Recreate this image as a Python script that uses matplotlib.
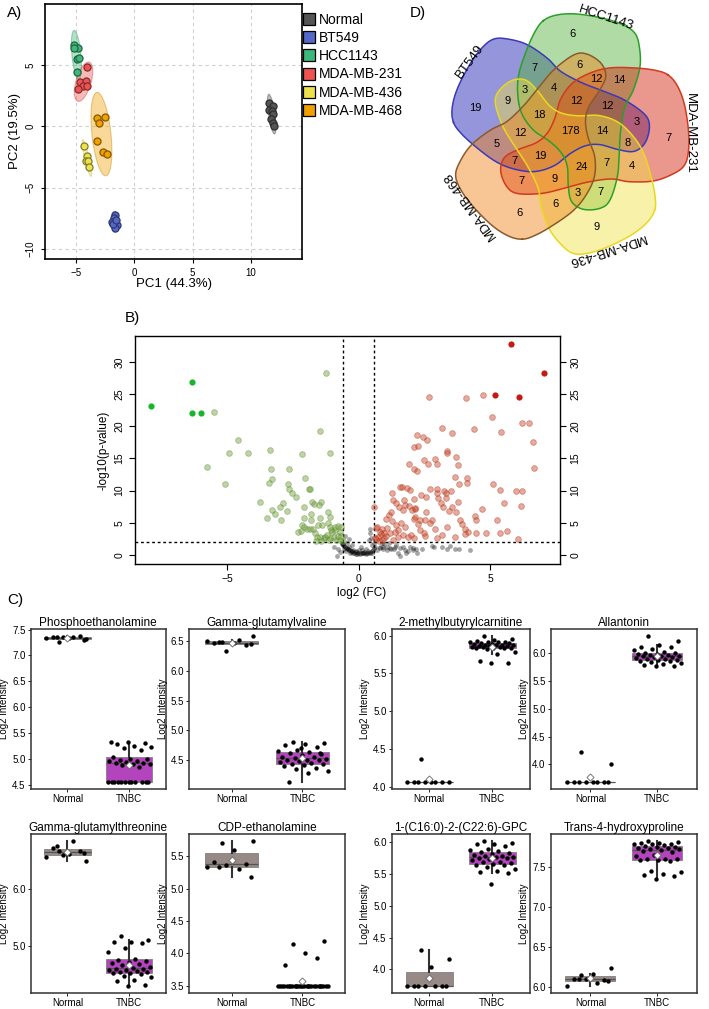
import numpy as np
import matplotlib
matplotlib.use("Agg")
import matplotlib.pyplot as plt
from matplotlib.path import Path
from matplotlib.lines import Line2D
from matplotlib.patches import Ellipse
from matplotlib.ticker import MultipleLocator, FormatStrFormatter

plt.rcParams['font.family'] = ['Liberation Sans', 'DejaVu Sans']

# ---------------- DATA ----------------
# A) PCA scores
pca_groups = ["Normal", "BT549", "HCC1143", "MDA-MB-231", "MDA-MB-436", "MDA-MB-468"]
pca_colors = ["#555555", "#5468c8", "#3db77a", "#ee5252", "#ede24c", "#f0a000"]
pc_normal = [(11.57, 1.91), (11.85, 1.64), (11.57, 1.31), (11.77, 1.23), (11.85, 0.98),
             (11.68, 0.63), (11.90, 0.27), (11.97, 0.0)]
pc_bt549 = [(-1.66, -7.24), (-1.72, -7.5), (-1.89, -7.78), (-1.51, -8.05), (-1.66, -8.27),
            (-1.80, -7.91), (-1.55, -7.6)]
pc_hcc1143 = [(-5.17, 6.64), (-4.86, 6.37), (-4.94, 5.46), (-4.72, 5.6), (-4.94, 4.45), (-5.17, 6.37)]
pc_mda231 = [(-4.08, 4.86), (-4.66, 3.63), (-4.14, 3.72), (-4.43, 3.28), (-4.03, 3.31), (-4.80, 3.0)]
pc_mda436 = [(-4.31, -1.64), (-4.08, -2.40), (-4.14, -2.79), (-3.94, -2.79), (-3.91, -3.28)]
pc_mda468 = [(-3.20, 0.71), (-3.03, 0.27), (-2.51, 0.77), (-3.17, -1.2), (-2.71, -2.1), (-2.32, -2.24)]
pc1_label = "PC1 (44.3%)"
pc2_label = "PC2 (19.5%)"

# B) Volcano plot (log2 FC, -log10 p)
top_down = [(-7.89, 23.1), (-6.32, 26.9), (-6.34, 22.1), (-6.00, 22.0)]
top_up = [(5.78, 32.7), (7.07, 28.2), (5.17, 24.9), (6.12, 24.5)]
down_points = [(-5.48, 22.2), (-4.58, 17.8), (-4.94, 15.9), (-4.20, 15.8), (-5.77, 13.6), (-5.08, 11.0),
               (-1.24, 28.2), (-1.48, 19.2), (-1.09, 15.8), (-2.14, 15.7), (-3.37, 16.3), (-3.33, 13.3),
               (-2.65, 13.4), (-3.30, 11.8), (-3.39, 11.2), (-2.67, 11.0), (-2.05, 11.9), (-3.76, 8.2),
               (-3.47, 5.8), (-3.29, 7.0), (-3.18, 6.4), (-2.87, 8.0), (-3.00, 7.4), (-2.72, 6.8),
               (-2.94, 5.4), (-2.65, 10.2), (-2.53, 9.7), (-2.38, 9.0), (-1.89, 10.2), (-1.85, 10.2),
               (-1.76, 8.2), (-1.70, 7.9), (-2.06, 7.5), (-1.80, 6.4), (-1.43, 8.2), (-1.52, 7.8),
               (-1.16, 6.6), (-1.08, 5.9), (-1.48, 5.8), (-1.80, 5.4), (-2.09, 5.7), (-2.15, 4.7),
               (-2.19, 3.8), (-2.29, 3.6), (-1.96, 4.1), (-2.06, 4.4), (-1.84, 4.1), (-1.73, 4.0),
               (-1.54, 4.7), (-1.38, 4.6), (-1.16, 4.9), (-1.08, 4.3), (-1.03, 3.9), (-1.00, 3.5),
               (-0.91, 3.9), (-0.89, 4.3), (-0.77, 4.5), (-0.67, 4.4), (-0.95, 2.8), (-1.08, 2.6),
               (-1.27, 2.8), (-1.30, 2.6), (-1.19, 3.1), (-1.46, 2.8), (-1.58, 2.8), (-1.67, 3.4),
               (-1.62, 2.1), (-1.42, 2.2), (-1.14, 2.4), (-0.86, 2.4), (-0.70, 2.4), (-0.59, 2.1),
               (-0.80, 3.0), (-0.72, 3.6), (-0.66, 2.9)]
up_points = [(2.68, 24.6), (4.10, 24.3), (4.75, 24.9), (5.06, 21.4), (6.23, 20.5), (6.49, 20.5), (6.64, 17.5),
             (6.69, 13.5), (5.42, 19.1), (4.40, 19.6), (3.17, 19.7), (3.55, 19.0), (2.23, 18.7), (2.44, 18.3),
             (2.62, 17.9), (2.09, 16.7), (2.25, 16.9), (2.48, 14.8), (2.65, 14.1), (1.90, 14.1), (2.09, 13.4),
             (2.24, 13.1), (2.91, 14.9), (3.00, 14.2), (3.35, 16.1), (3.37, 15.9), (3.69, 15.2), (3.78, 14.0),
             (3.65, 12.1), (3.83, 11.0), (4.12, 12.0), (3.51, 9.9), (3.80, 8.3), (4.13, 11.1), (3.26, 9.9),
             (3.33, 9.6), (3.32, 8.8), (3.02, 8.9), (2.71, 10.3), (3.00, 10.2), (3.00, 9.6), (3.13, 8.0),
             (3.22, 7.5), (3.43, 6.8), (3.57, 7.5), (3.71, 6.6), (3.85, 5.4), (3.95, 4.8), (4.06, 4.1),
             (4.17, 3.6), (3.68, 2.8), (4.05, 3.3), (4.45, 3.4), (4.45, 5.5), (4.41, 6.0), (4.68, 7.2),
             (4.85, 3.4), (5.25, 5.4), (5.38, 3.4), (5.65, 3.7), (6.05, 2.5), (6.16, 7.6), (6.22, 9.9),
             (5.99, 10.0), (5.53, 8.1), (5.38, 10.1), (5.10, 11.0), (1.28, 9.6), (1.32, 8.5), (1.64, 10.6),
             (1.59, 10.5), (1.84, 10.4), (1.95, 10.1), (1.72, 8.5), (1.77, 7.8), (1.54, 7.5), (1.41, 8.0),
             (1.69, 7.0), (1.90, 7.6), (2.02, 7.0), (2.16, 7.2), (2.16, 5.9), (2.11, 5.6), (2.35, 5.5),
             (2.53, 5.5), (2.57, 6.7), (2.55, 9.0), (2.38, 9.3), (2.09, 8.7), (2.14, 7.3), (2.26, 4.8),
             (2.35, 3.9), (2.48, 3.4), (2.54, 3.0), (2.71, 4.9), (2.81, 5.4), (2.91, 4.0), (3.00, 2.6),
             (3.17, 3.1), (3.38, 4.4), (1.04, 5.6), (1.16, 6.2), (1.26, 5.2), (1.08, 4.2), (0.89, 4.1),
             (0.84, 3.2), (0.74, 2.8), (0.67, 4.2), (0.97, 3.4), (1.18, 3.4), (1.37, 3.5), (1.51, 3.9),
             (1.51, 2.8), (1.70, 3.1), (1.87, 2.8), (1.98, 3.1), (2.12, 2.6), (0.59, 7.4), (0.71, 4.3),
             (0.61, 2.7), (1.25, 6.7), (1.44, 4.7), (1.63, 4.9), (1.76, 4.3), (0.97, 2.6), (0.78, 2.2),
             (0.68, 2.5), (0.88, 2.4), (1.05, 2.9), (1.30, 2.3), (0.80, 3.6)]
ns_points = [(-0.51, 3.0), (-0.44, 1.8), (-0.82, -0.1), (-0.70, 0.5), (-0.95, 1.3), (-0.19, 0.26), (-0.09, 0.1),
             (-0.32, 0.36), (-0.38, 1.2), (-0.59, 1.7), (-0.64, 1.9), (-0.58, 1.55), (-0.51, 1.29), (-0.45, 1.03),
             (-0.36, 0.78), (-0.26, 0.62), (-0.13, 0.47), (-0.01, 0.36), (0.12, 0.26), (0.25, 0.36), (0.37, 0.26),
             (0.50, 0.36), (0.56, 0.78), (0.63, 1.29), (0.69, 0.78), (0.82, 1.03), (0.94, 1.29), (1.07, 0.78),
             (1.20, 1.03), (1.39, 1.29), (1.58, 1.03), (1.77, 0.78), (1.96, 1.29), (2.08, 1.03), (0.45, 4.0),
             (0.48, 2.6), (0.80, 1.3), (0.93, 1.0), (1.08, 1.2), (1.25, 1.0), (1.34, 0.9), (1.50, 0.3),
             (1.56, -0.1), (1.82, 0.26), (1.88, 0.6), (2.07, 0.8), (2.17, 0.9), (2.24, 0.26), (2.42, 1.0),
             (2.79, 1.4), (2.86, 1.2), (3.16, 1.3), (3.35, 1.0), (3.47, 1.4), (3.68, 0.9), (3.82, 1.0),
             (4.24, 0.8), (1.69, 1.3), (1.44, 1.55), (1.16, 1.8), (0.98, 1.7), (0.88, 1.8), (0.44, 3.4),
             (-0.78, 1.0), (-0.55, 0.9), (-0.48, 0.6), (-0.30, 0.5), (-0.22, 0.3), (-0.05, 0.2), (0.05, 0.15),
             (0.18, 0.3), (0.30, 0.2), (0.42, 0.4), (0.35, 0.6), (0.20, 0.5), (-0.10, 0.55), (-0.40, 0.9),
             (-0.20, 0.8), (0.00, 0.7), (0.15, 0.8), (0.28, 0.9), (0.52, 1.6), (-0.25, 1.5), (0.10, 1.2),
             (-0.55, 1.4), (-0.48, 1.15), (-0.41, 0.95), (-0.33, 0.7), (-0.23, 0.55), (-0.07, 0.4),
             (0.06, 0.32), (0.18, 0.38), (0.31, 0.3), (0.44, 0.33), (0.53, 0.55), (-0.62, 1.75),
             (0.58, 1.05), (0.60, 1.9), (0.40, 2.3), (-0.35, 2.5)]
fc_cut = 0.585
p_cut = 2.0

# C) Box plots (log2 intensity)
metabolites = ["Phosphoethanolamine", "Gamma-glutamylvaline", "2-methylbutyrylcarnitine", "Allantonin",
               "Gamma-glutamylthreonine", "CDP-ethanolamine", "1-(C16:0)-2-(C22:6)-GPC", "Trans-4-hydroxyproline"]
groups = ["Normal", "TNBC"]
normal_vals = [
    [7.26, 7.31, 7.33, 7.35, 7.37, 7.36, 7.34, 7.35, 7.35, 7.29],
    [6.48, 6.58, 6.47, 6.46, 6.44, 6.34, 6.50, 6.51, 6.48, 6.45],
    [4.37, 4.07, 4.07, 4.07, 4.07, 4.07, 4.07, 4.07, 4.07],
    [4.23, 4.00, 3.69, 3.69, 3.69, 3.69, 3.69, 3.69, 3.69, 3.69],
    [6.68, 6.51, 6.62, 6.73, 6.67, 6.60, 6.58, 6.85, 6.76, 6.64],
    [5.70, 5.73, 5.59, 5.41, 5.38, 5.37, 5.33, 5.30, 5.34, 5.18],
    [4.30, 4.16, 4.04, 3.74, 3.74, 3.74, 3.74, 3.74, 3.74, 3.74],
    [6.14, 6.23, 6.16, 6.10, 6.08, 6.09, 6.01, 6.05, 6.10, 6.07],
]
tnbc_vals = [
    [4.56] * 12 + [4.85, 4.88, 4.90, 4.91, 4.93, 4.93, 4.95, 4.96, 4.97, 4.98, 5.00, 5.00, 5.04, 5.18,
                   5.22, 5.24, 5.25, 5.28, 5.30, 5.32, 5.33],
    [4.81, 4.79, 4.78, 4.76, 4.72, 4.68, 4.66, 4.64, 4.62, 4.60, 4.58, 4.56, 4.55, 4.54, 4.52, 4.51,
     4.50, 4.50, 4.49, 4.47, 4.45, 4.44, 4.43, 4.42, 4.40, 4.37, 4.35, 4.32, 4.28, 4.14, 4.62, 4.70],
    [5.99, 5.95, 5.94, 5.93, 5.92, 5.92, 5.91, 5.91, 5.90, 5.90, 5.89, 5.89, 5.88, 5.88, 5.87, 5.87,
     5.86, 5.86, 5.86, 5.85, 5.85, 5.85, 5.84, 5.84, 5.83, 5.83, 5.82, 5.78, 5.75, 5.67, 5.64, 5.64],
    [6.30, 6.22, 6.15, 6.10, 6.10, 6.08, 6.05, 6.02, 6.00, 6.00, 5.99, 5.98, 5.97, 5.96, 5.95, 5.94,
     5.94, 5.93, 5.92, 5.91, 5.90, 5.89, 5.88, 5.87, 5.86, 5.85, 5.84, 5.82, 5.80, 5.78, 5.77, 5.76],
    [5.18, 5.10, 5.08, 5.07, 5.05, 4.97, 4.90, 4.78, 4.76, 4.74, 4.72, 4.70, 4.68, 4.66, 4.64, 4.62,
     4.60, 4.60, 4.58, 4.57, 4.56, 4.55, 4.54, 4.53, 4.52, 4.50, 4.48, 4.45, 4.40, 4.38, 4.32, 4.30],
    [4.15, 4.19, 4.00, 3.82, 3.93] + [3.50] * 27,
    [6.02, 5.99, 5.98, 5.97, 5.95, 5.90, 5.88, 5.86, 5.85, 5.84, 5.82, 5.80, 5.79, 5.78, 5.77, 5.77,
     5.76, 5.75, 5.74, 5.72, 5.70, 5.69, 5.68, 5.66, 5.65, 5.64, 5.62, 5.58, 5.55, 5.53, 5.52, 5.35],
    [7.82, 7.81, 7.80, 7.80, 7.79, 7.78, 7.78, 7.77, 7.76, 7.75, 7.75, 7.74, 7.73, 7.72, 7.72, 7.71,
     7.70, 7.68, 7.65, 7.63, 7.60, 7.60, 7.60, 7.59, 7.58, 7.57, 7.45, 7.43, 7.41, 7.40, 7.38, 7.35],
]
box_tick_step = [0.5, 0.5, 0.5, 0.5, 1.0, 0.5, 0.5, 0.5]

# D) Venn diagram counts
venn_sets = ["HCC1143", "MDA-MB-231", "MDA-MB-436", "MDA-MB-468", "BT549"]
venn_regions = [
    ("BT549",), ("HCC1143",), ("MDA-MB-231",), ("MDA-MB-436",), ("MDA-MB-468",),
    ("BT549", "HCC1143"), ("HCC1143", "MDA-MB-231"), ("MDA-MB-231", "MDA-MB-436"),
    ("MDA-MB-436", "MDA-MB-468"), ("MDA-MB-468", "BT549"),
    ("HCC1143", "MDA-MB-468"), ("BT549", "MDA-MB-436"), ("BT549", "MDA-MB-231"),
    ("HCC1143", "MDA-MB-436"), ("MDA-MB-231", "MDA-MB-468"),
    ("MDA-MB-468", "BT549", "HCC1143"), ("BT549", "HCC1143", "MDA-MB-231"),
    ("HCC1143", "MDA-MB-231", "MDA-MB-436"), ("MDA-MB-231", "MDA-MB-436", "MDA-MB-468"),
    ("MDA-MB-436", "MDA-MB-468", "BT549"),
    ("HCC1143", "MDA-MB-231", "MDA-MB-468"), ("MDA-MB-231", "MDA-MB-436", "BT549"),
    ("MDA-MB-436", "MDA-MB-468", "HCC1143"), ("MDA-MB-468", "BT549", "MDA-MB-231"),
    ("BT549", "HCC1143", "MDA-MB-436"),
    ("BT549", "HCC1143", "MDA-MB-231", "MDA-MB-468"), ("BT549", "HCC1143", "MDA-MB-231", "MDA-MB-436"),
    ("HCC1143", "MDA-MB-231", "MDA-MB-436", "MDA-MB-468"), ("BT549", "MDA-MB-231", "MDA-MB-436", "MDA-MB-468"),
    ("BT549", "HCC1143", "MDA-MB-436", "MDA-MB-468"),
    ("BT549", "HCC1143", "MDA-MB-231", "MDA-MB-436", "MDA-MB-468"),
]
venn_counts = [19, 6, 7, 9, 6,
               7, 14, 4, 6, 5,
               6, 9, 3, 7, 7,
               4, 12, 7, 9, 12,
               12, 8, 3, 7, 3,
               12, 14, 24, 19, 18,
               178]

# ---------------- LAYOUT ----------------
W, H = 709, 1009
fig = plt.figure(figsize=(W / 100, H / 100), dpi=100)


def add_ax(l, t, r, b):
    return fig.add_axes([l / W, 1 - b / H, (r - l) / W, (b - t) / H])


def ftext(x, y, s, **kw):
    fig.text(x / W, 1 - y / H, s, **kw)


def darker(c, f=0.55):
    rgb = np.array(matplotlib.colors.to_rgb(c))
    return tuple(rgb * f)


# ---------- A) PCA ----------
ax = add_ax(45, 4, 302, 259)
ax.set_xlim(-7.66, 14.37)
ax.set_ylim(-10.8, 9.96)
ax.set_xticks([-5, 0, 5, 10])
ax.set_yticks([-10, -5, 0, 5])
ax.grid(True, ls=(0, (3, 3)), color="#cfcfcf", lw=0.8)
ax.set_axisbelow(True)
for s in ax.spines.values():
    s.set_linewidth(1.2)
ax.tick_params(labelsize=7, length=3, width=0.8)
ax.tick_params(axis="y", labelrotation=90)
for t in ax.yaxis.get_major_ticks():
    t.label1.set_va("center")
pca_sets = [pc_normal, pc_bt549, pc_hcc1143, pc_mda231, pc_mda436, pc_mda468]
chi = np.sqrt(5.991)
for pts, col in zip(pca_sets, pca_colors):
    P = np.array(pts)
    m = P.mean(0)
    cov = np.cov(P.T)
    vals, vecs = np.linalg.eigh(cov)
    o = vals.argsort()[::-1]
    vals, vecs = vals[o], vecs[:, o]
    ang = np.degrees(np.arctan2(vecs[1, 0], vecs[0, 0]))
    e = Ellipse(m, 2 * chi * np.sqrt(vals[0]), 2 * chi * np.sqrt(vals[1]), angle=ang,
                facecolor=col, alpha=0.4, edgecolor=darker(col, 0.8), lw=0.8, zorder=2)
    ax.add_patch(e)
    ax.scatter(P[:, 0], P[:, 1], s=26, color=col, edgecolors=darker(col), linewidths=0.9, zorder=3)
ftext(173.5, 284, pc1_label, fontsize=9.5, ha="center", va="center")
ftext(15, 131, pc2_label, fontsize=9.5, ha="center", va="center", rotation=90)
ftext(15, 13, "A)", fontsize=11, ha="center", va="center")
handles = [Line2D([], [], marker="s", markersize=8.5, markerfacecolor=c, markeredgecolor="black",
                  markeredgewidth=0.9, linestyle="None") for c in pca_colors]
fig.legend(handles, pca_groups, loc="upper left", bbox_to_anchor=(303 / W, 1 - 13 / H), frameon=False,
           fontsize=10, handlelength=0.9, handletextpad=0.25, labelspacing=0.3, borderaxespad=0, borderpad=0)

# ---------- B) Volcano ----------
ax = add_ax(135, 336, 560, 564)
ax.set_xlim(-8.5, 7.66)
ax.set_ylim(-1.4, 34.0)
ns = np.array(ns_points)
dn = np.array(down_points)
up = np.array(up_points)
td = np.array(top_down)
tu = np.array(top_up)
ax.scatter(ns[:, 0], ns[:, 1], s=12, color="black", alpha=0.35, linewidths=0, zorder=2)
ax.scatter(dn[:, 0], dn[:, 1], s=17, facecolor="#6f9e3c", edgecolor="#5a8a2a", alpha=0.45,
           linewidths=0.6, zorder=2)
ax.scatter(up[:, 0], up[:, 1], s=17, facecolor="#c8452a", edgecolor="#b03418", alpha=0.45,
           linewidths=0.6, zorder=2)
ax.scatter(td[:, 0], td[:, 1], s=20, color="#17b62a", linewidths=0, zorder=3)
ax.scatter(tu[:, 0], tu[:, 1], s=20, color="#c41a14", linewidths=0, zorder=3)
for xv in (-fc_cut, fc_cut):
    ax.axvline(xv, color="black", ls=(0, (2, 2)), lw=1.0, zorder=1)
ax.axhline(p_cut, color="black", ls=(0, (2, 2)), lw=1.0, zorder=1)
ax.set_xticks([-5, 0, 5])
ax.set_yticks([0, 5, 10, 15, 20, 25, 30])
ax.yaxis.set_ticks_position("both")
ax.tick_params(labelsize=7.5, length=4, width=0.8, labelright=True)
ax.tick_params(axis="y", labelrotation=90)
for t in ax.yaxis.get_major_ticks():
    t.label1.set_va("center")
    t.label2.set_va("center")
for s in ax.spines.values():
    s.set_linewidth(1.0)
ftext(362, 593, "log2 (FC)", fontsize=8.5, ha="center", va="center")
ftext(103, 450, "-log10(p-value)", fontsize=8.5, ha="center", va="center", rotation=90)
ftext(132, 318, "B)", fontsize=11, ha="center", va="center")

# ---------- C) Box plots ----------
ftext(15, 600, "C)", fontsize=11, ha="center", va="center")
cols_px = [(30.5, 166), (189, 345), (391.5, 530), (550.5, 697)]
rows_px = [(629, 789), (834, 993)]
box_fc = ["#978985", "#b444be"]
for i, name in enumerate(metabolites):
    l, r = cols_px[i % 4]
    t, b = rows_px[i // 4]
    ax = add_ax(l, t, r, b)
    data = [normal_vals[i], tnbc_vals[i]]
    allv = np.concatenate([np.array(d) for d in data])
    lo, hi = allv.min(), allv.max()
    pad = (hi - lo) * 0.05
    ax.set_ylim(lo - pad, hi + pad)
    ax.set_xlim(0.4, 2.6)
    bp = ax.boxplot(data, positions=[1, 2], widths=0.75, patch_artist=True, showfliers=False,
                    showcaps=False, whis=1.5,
                    medianprops=dict(color="#555555", lw=0.9),
                    whiskerprops=dict(color="#333333", lw=1.5),
                    boxprops=dict(edgecolor="#808080", lw=0.6), zorder=2)
    for patch, fc in zip(bp["boxes"], box_fc):
        patch.set_facecolor(fc)
    for wsk in bp["whiskers"]:
        wsk.set_zorder(3)
    for j, d in enumerate(data):
        d = np.array(d)
        n = len(d)
        offs = (((np.arange(n) * 0.618034 + 0.31) % 1.0) - 0.5) * 0.72
        ax.scatter(j + 1 + offs, d, s=10, color="black", linewidths=0, zorder=4)
        ax.scatter([j + 1], [d.mean()], marker="D", s=13, color="white", edgecolors="#666666",
                   linewidths=0.6, zorder=5)
    ax.set_xticks([1, 2])
    ax.set_xticklabels(groups)
    ax.yaxis.set_major_locator(MultipleLocator(box_tick_step[i]))
    ax.yaxis.set_major_formatter(FormatStrFormatter("%.1f"))
    ax.tick_params(labelsize=7, length=2, width=0.6, pad=1.5)
    ax.set_ylabel("Log2 Intensity", fontsize=7, labelpad=2)
    ax.set_title(name, fontsize=8.5, pad=2)
    for s in ax.spines.values():
        s.set_linewidth(1.1)
        s.set_color("#333333")

# ---------- D) Venn ----------
# layout template of one set outline (venn-diagram geometry, rotated for each set)
venn_template = [(-75, 338), (-35, 355), (25, 358), (105, 345), (165, 325), (200, 300), (213, 260),
                 (215, 200), (195, 130), (170, 80), (157, 10), (153, -60), (147, -130), (125, -200),
                 (95, -225), (45, -228), (10, -205), (0, -160), (-3, -100), (-20, -60), (-55, -25),
                 (-105, 10), (-140, 60), (-152, 120), (-148, 180), (-125, 250), (-100, 305)]
venn_fill = {"BT549": "#1515b1", "HCC1143": "#51b135", "MDA-MB-231": "#d11a05",
             "MDA-MB-436": "#f1e141", "MDA-MB-468": "#f18115"}
venn_edge = {"BT549": "#3a3ab8", "HCC1143": "#2aa02a", "MDA-MB-231": "#d03a20",
             "MDA-MB-436": "#e8d820", "MDA-MB-468": "#8b5a2b"}


def smooth_closed(pts, n=24):
    P = np.array(pts, float)
    N = len(P)
    out = []
    tt = np.linspace(0, 1, n, endpoint=False)[:, None]
    for k in range(N):
        p0, p1, p2, p3 = P[(k - 1) % N], P[k], P[(k + 1) % N], P[(k + 2) % N]
        out.append(0.5 * ((2 * p1) + (-p0 + p2) * tt + (2 * p0 - 5 * p1 + 4 * p2 - p3) * tt ** 2
                          + (-p0 + 3 * p1 - 3 * p2 + p3) * tt ** 3))
    return np.vstack(out)


base = smooth_closed(venn_template)
vax = add_ax(370, 0, 709, 300)
vax.set_xlim(-595, 422)
vax.set_ylim(-500, 400)
vax.axis("off")
shapes = {}
for k, name in enumerate(venn_sets):
    a = np.radians(-72 * k)
    R = np.array([[np.cos(a), -np.sin(a)], [np.sin(a), np.cos(a)]])
    shapes[name] = base @ R.T
draw_order = ["BT549", "HCC1143", "MDA-MB-231", "MDA-MB-436", "MDA-MB-468"]
for name in draw_order:
    poly = shapes[name]
    vax.fill(poly[:, 0], poly[:, 1], color=venn_fill[name], alpha=0.45, lw=0, zorder=1)
for name in draw_order:
    poly = shapes[name]
    vax.plot(np.append(poly[:, 0], poly[0, 0]), np.append(poly[:, 1], poly[0, 1]),
             color=venn_edge[name], lw=1.1, zorder=2)

gx = np.arange(-420, 440, 3.0)
gy = np.arange(-420, 440, 3.0)
GX, GY = np.meshgrid(gx, gy)
pts = np.column_stack([GX.ravel(), GY.ravel()])
member = {n: Path(shapes[n]).contains_points(pts).reshape(GX.shape) for n in venn_sets}


def erode(m):
    p = np.pad(m, 1, constant_values=False)
    r = m.copy()
    for dy in (-1, 0, 1):
        for dx in (-1, 0, 1):
            r &= p[1 + dy:p.shape[0] - 1 + dy, 1 + dx:p.shape[1] - 1 + dx]
    return r


for reg, cnt in zip(venn_regions, venn_counts):
    m = np.ones(GX.shape, bool)
    for n in venn_sets:
        m &= member[n] if n in reg else ~member[n]
    if not m.any():
        continue
    last = m
    while m.any():
        last = m
        m = erode(m)
    yy, xx = np.nonzero(last)
    cx, cy = xx.mean(), yy.mean()
    j = np.argmin((xx - cx) ** 2 + (yy - cy) ** 2)
    vax.text(gx[xx[j]], gy[yy[j]], str(cnt), fontsize=8, ha="center", va="center", zorder=3)

for k, name in enumerate(venn_sets):
    ang = 72 - 72 * k
    rr = 365
    vax.text(rr * np.cos(np.radians(ang)), rr * np.sin(np.radians(ang)), name, fontsize=9.5,
             rotation=ang - 90, rotation_mode="anchor", ha="center", va="center", zorder=3)
ftext(418, 13, "D)", fontsize=11, ha="center", va="center")

fig.savefig("out.png", dpi=100)
